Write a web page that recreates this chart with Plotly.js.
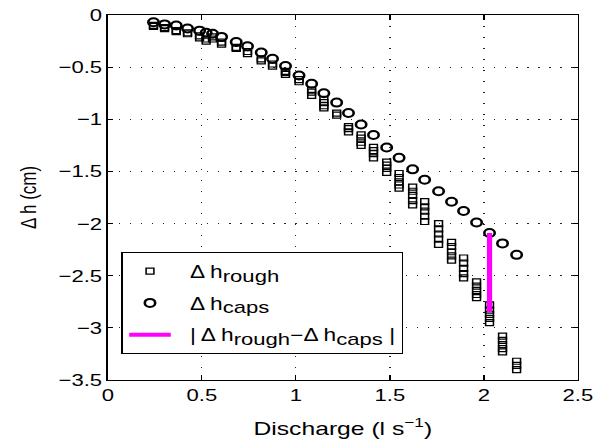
<!DOCTYPE html>
<html>
<head>
<meta charset="utf-8">
<script src="https://cdn.plot.ly/plotly-3.0.1.min.js"></script>
<style>
html,body{margin:0;padding:0;background:#fff;}
#wrap{width:600px;height:448px;overflow:hidden;position:relative;background:#fff;}
#chart{width:462px;height:448px;transform:scaleX(1.2987);transform-origin:0 0;}
</style>
</head>
<body>
<div id="wrap"><div id="chart"></div></div>
<script>
// Discharge (l s^-1) of each run
var discharge = [0.243,0.302,0.364,0.424,0.488,0.523,0.557,0.605,0.683,0.743,0.816,0.876,0.945,1.017,1.084,1.149,1.217,1.280,1.347,1.413,1.483,1.549,1.621,1.685,1.759,1.828,1.892,1.961,2.030,2.099,2.174];
// Δh over caps (cm)
var capsDh = [-0.07,-0.09,-0.10,-0.13,-0.15,-0.17,-0.18,-0.21,-0.26,-0.30,-0.36,-0.42,-0.49,-0.58,-0.66,-0.75,-0.84,-0.94,-1.05,-1.15,-1.27,-1.37,-1.48,-1.58,-1.69,-1.79,-1.88,-1.99,-2.09,-2.19,-2.30];
// Δh over rough bed (cm), repeated measurements per discharge
var roughDh = [
  [-0.10,-0.11],[-0.12,-0.13],[-0.15,-0.16],[-0.17,-0.18],[-0.20,-0.22],
  [-0.23,-0.25],[-0.21,-0.23],[-0.26,-0.28],[-0.31,-0.32],[-0.35,-0.37],
  [-0.42,-0.44],[-0.47,-0.49],[-0.54,-0.55,-0.57],[-0.62,-0.64],[-0.72,-0.74,-0.77],
  [-0.81,-0.84,-0.87,-0.89],[-0.94,-0.96],[-1.07,-1.09,-1.12],[-1.15,-1.18,-1.22,-1.25],
  [-1.27,-1.30,-1.33,-1.37],[-1.41,-1.44,-1.47,-1.51],[-1.52,-1.56,-1.60,-1.63,-1.66],
  [-1.65,-1.69,-1.73,-1.78,-1.82],[-1.79,-1.84,-1.88,-1.93,-1.98],[-2.00,-2.05,-2.10,-2.15,-2.20],
  [-2.18,-2.22,-2.27,-2.31,-2.35],[-2.33,-2.38,-2.43,-2.48,-2.52],[-2.56,-2.60,-2.64,-2.68,-2.71],
  [-2.78,-2.83,-2.87,-2.91,-2.95],[-3.08,-3.12,-3.16,-3.20,-3.23],[-3.32,-3.36,-3.40]
];
// |Δh_rough − Δh_caps| segment
var diffQ = [2.03, 2.03];
var diffDh = [-2.09, -2.85];
var xTicks = [0, 0.5, 1, 1.5, 2, 2.5];
var yTicks = [0, -0.5, -1, -1.5, -2, -2.5, -3, -3.5];

var rx = [], ry = [];
roughDh.forEach(function(g, i){ g.forEach(function(v){ rx.push(discharge[i]); ry.push(v); }); });

var FAM = 'Liberation Sans, Arial, Helvetica, sans-serif';
var font = {family: FAM, size: 17, color: '#000'};
var legFont = {family: FAM, size: 17.5, color: '#000'};
function sub(t){ return '<sub><span style="font-size:17px">' + t + '</span></sub>'; }
var NB = '\u00A0\u00A0';
var traces = [
  {x: rx, y: ry, mode: 'markers', type: 'scatter', name: NB + 'Δ h' + sub('rough'), legendgroup: 'a',
   marker: {symbol: 'square-open', size: 6, color: '#000', line: {width: 1.2, color: '#000'}}},
  {x: discharge, y: capsDh, mode: 'markers', type: 'scatter', name: NB + 'Δ h' + sub('caps'), legendgroup: 'b',
   marker: {symbol: 'circle-open', size: 8, color: '#000', line: {width: 2, color: '#000'}}},
  {x: diffQ, y: diffDh, mode: 'lines', type: 'scatter', name: NB + '| Δ h' + sub('rough') + '−Δ h' + sub('caps') + ' |', legendgroup: 'c',
   line: {color: '#ff00ff', width: 4}}
];
var axisCommon = {
  showline: true, linecolor: '#000', linewidth: 1, mirror: 'ticks',
  ticks: 'inside', tickcolor: '#000', tickwidth: 1,
  showgrid: true, gridcolor: '#222', gridwidth: 1,
  zeroline: false, tickfont: font, tickmode: 'array'
};
var layout = {
  width: 462, height: 448,
  margin: {l: 83.4, r: 16.9, t: 15, b: 68},
  paper_bgcolor: '#fff', plot_bgcolor: '#fff',
  font: font,
  showlegend: true,
  xaxis: Object.assign({}, axisCommon, {range: [0, 2.5], tickvals: xTicks, ticktext: xTicks.map(String),
    ticklen: 5, griddash: '1px,10px',
    title: {text: 'Discharge (l s<sup>−1</sup>)', font: {family: FAM, size: 19, color: '#000'}, standoff: 17}}),
  yaxis: Object.assign({}, axisCommon, {range: [-3.5, 0], tickvals: yTicks,
    ticktext: yTicks.map(function(v){ return v === 0 ? '0' : String(v).replace('-', '−'); }),
    ticklen: 4, griddash: '1px,7.5px',
    title: {text: 'Δ h (cm)', font: font, standoff: 12}}),
  legend: {x: 0.029, y: 0.35, xanchor: 'left', yanchor: 'top', bgcolor: '#fff',
    bordercolor: '#000', borderwidth: 1, font: legFont, itemwidth: 32, tracegroupgap: 6,
    traceorder: 'grouped'}
};
Plotly.newPlot('chart', traces, layout, {displayModeBar: false});
</script>
</body>
</html>
